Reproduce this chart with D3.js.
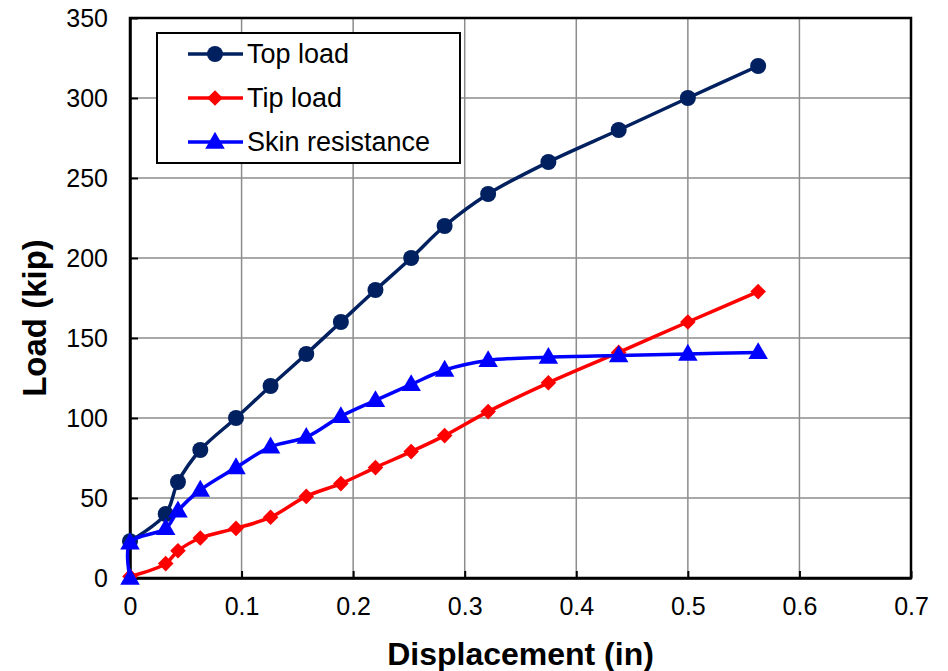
<!DOCTYPE html>
<html>
<head>
<meta charset="utf-8">
<script src="https://cdn.jsdelivr.net/npm/d3@7"></script>
<style>
  body { margin: 0; background: #fff; }
  svg { font-family: "Liberation Sans", Arial, sans-serif; }
</style>
</head>
<body>
<div id="chart"></div>
<script>
// displacement (in) and load (kip)
const topDisp  = [0, 0.032, 0.043, 0.063, 0.095, 0.126, 0.158, 0.189, 0.220, 0.252, 0.282, 0.321, 0.375, 0.438, 0.500, 0.563];
const topLoad  = [23, 40, 60, 80, 100, 120, 140, 160, 180, 200, 220, 240, 260, 280, 300, 320];

const tipDisp  = [0, 0.032, 0.043, 0.063, 0.095, 0.126, 0.158, 0.189, 0.220, 0.252, 0.282, 0.321, 0.375, 0.438, 0.500, 0.563];
const tipLoad  = [1, 9, 17, 25, 31, 38, 51, 59, 69, 79, 89, 104, 122, 141, 160, 179];

const skinDisp = [0, 0, 0.032, 0.043, 0.063, 0.095, 0.126, 0.158, 0.189, 0.220, 0.252, 0.282, 0.321, 0.375, 0.438, 0.500, 0.563];
const skinLoad = [0, 22, 31, 42, 55, 69, 82, 88, 101, 111, 121, 130, 136, 138, 139, 140, 141];

const xTicks = [0, 0.1, 0.2, 0.3, 0.4, 0.5, 0.6, 0.7];
const yTicks = [0, 50, 100, 150, 200, 250, 300, 350];

const series = [
    { name: "Top load", xs: topDisp, ys: topLoad, color: "#002060", marker: "circle" },
    { name: "Tip load", xs: tipDisp, ys: tipLoad, color: "#ff0000", marker: "diamond" },
    { name: "Skin resistance", xs: skinDisp, ys: skinLoad, color: "#0000ff", marker: "triangle" }
];

const width = 948;
const height = 671;
const margin = { top: 18, right: 37, bottom: 93, left: 130 };

const svg = d3.select("#chart")
              .append("svg")
              .attr("width", width)
              .attr("height", height);

const x = d3.scaleLinear().domain([0, 0.7]).range([margin.left, width - margin.right]);
const y = d3.scaleLinear().domain([0, 350]).range([height - margin.bottom, margin.top]);

// gridlines
svg.append("g")
   .selectAll("line.vgrid")
   .data(xTicks.slice(1, -1))
   .enter().append("line")
   .attr("x1", d => x(d)).attr("x2", d => x(d))
   .attr("y1", y(0)).attr("y2", y(350))
   .style("stroke", "#8c8c8c")
   .style("stroke-width", 1.5);

svg.append("g")
   .selectAll("line.hgrid")
   .data(yTicks.slice(1, -1))
   .enter().append("line")
   .attr("x1", x(0)).attr("x2", x(0.7))
   .attr("y1", d => y(d)).attr("y2", d => y(d))
   .style("stroke", "#8c8c8c")
   .style("stroke-width", 1.5);

// plot frame
svg.append("rect")
   .attr("x", x(0)).attr("y", y(350))
   .attr("width", x(0.7) - x(0))
   .attr("height", y(0) - y(350))
   .style("fill", "none")
   .style("stroke", "#000")
   .style("stroke-width", 2.5);

// axes with inside ticks
const xAxis = svg.append("g")
   .attr("transform", `translate(0,${y(0)})`)
   .call(d3.axisBottom(x).tickValues(xTicks).tickSizeInner(-7).tickSizeOuter(0).tickPadding(19)
           .tickFormat(d => d === 0 ? "0" : d3.format(".1f")(d)));
const yAxis = svg.append("g")
   .attr("transform", `translate(${x(0)},0)`)
   .call(d3.axisLeft(y).tickValues(yTicks).tickSizeInner(-8).tickSizeOuter(0).tickPadding(22));

[xAxis, yAxis].forEach(g => {
    g.select(".domain").style("stroke", "#000").style("stroke-width", 2.5);
    g.selectAll(".tick line").style("stroke", "#000").style("stroke-width", 2);
    g.selectAll(".tick text")
     .style("font-family", "'Liberation Sans', Arial, sans-serif")
     .style("font-size", "25px")
     .style("fill", "#000");
});

// axis titles
svg.append("text")
   .attr("x", (x(0) + x(0.7)) / 2)
   .attr("y", 665)
   .attr("text-anchor", "middle")
   .style("font-size", "32px")
   .style("font-weight", "bold")
   .text("Displacement (in)");

svg.append("text")
   .attr("transform", `translate(46,${(y(0) + y(350)) / 2 + 20}) rotate(-90)`)
   .attr("text-anchor", "middle")
   .style("font-size", "33px")
   .style("font-weight", "bold")
   .text("Load (kip)");

// markers
function drawMarker(g, type, color, cx, cy) {
    if (type === "circle") {
        g.append("circle").attr("cx", cx).attr("cy", cy).attr("r", 8).style("fill", color);
    } else if (type === "diamond") {
        g.append("path")
         .attr("d", d3.symbol().type(d3.symbolDiamond2).size(155)())
         .attr("transform", `translate(${cx},${cy})`)
         .style("fill", color);
    } else {
        g.append("path")
         .attr("d", d3.symbol().type(d3.symbolTriangle).size(165)())
         .attr("transform", `translate(${cx},${cy + 1})`)
         .style("fill", color);
    }
}

const line = d3.line()
               .x(d => x(d[0]))
               .y(d => y(d[1]))
               .curve(d3.curveCatmullRom.alpha(0.5));

series.forEach(s => {
    const pts = s.xs.map((v, i) => [v, s.ys[i]]);
    const g = svg.append("g");
    g.append("path")
     .datum(pts)
     .attr("d", line)
     .style("fill", "none")
     .style("stroke", s.color)
     .style("stroke-width", 3.5);
    pts.forEach(p => drawMarker(g, s.marker, s.color, x(p[0]), y(p[1])));
});

// legend
const legend = svg.append("g");
legend.append("rect")
      .attr("x", 157).attr("y", 33)
      .attr("width", 303).attr("height", 130)
      .style("fill", "#fff")
      .style("stroke", "#000")
      .style("stroke-width", 2);

series.forEach((s, i) => {
    const ly = 54 + i * 44;
    legend.append("line")
          .attr("x1", 188).attr("x2", 243)
          .attr("y1", ly).attr("y2", ly)
          .style("stroke", s.color)
          .style("stroke-width", 3.5);
    drawMarker(legend, s.marker, s.color, 215, ly);
    legend.append("text")
          .attr("x", 247)
          .attr("y", ly + 9)
          .style("font-size", "27px")
          .style("fill", "#000")
          .text(s.name);
});
</script>
</body>
</html>
